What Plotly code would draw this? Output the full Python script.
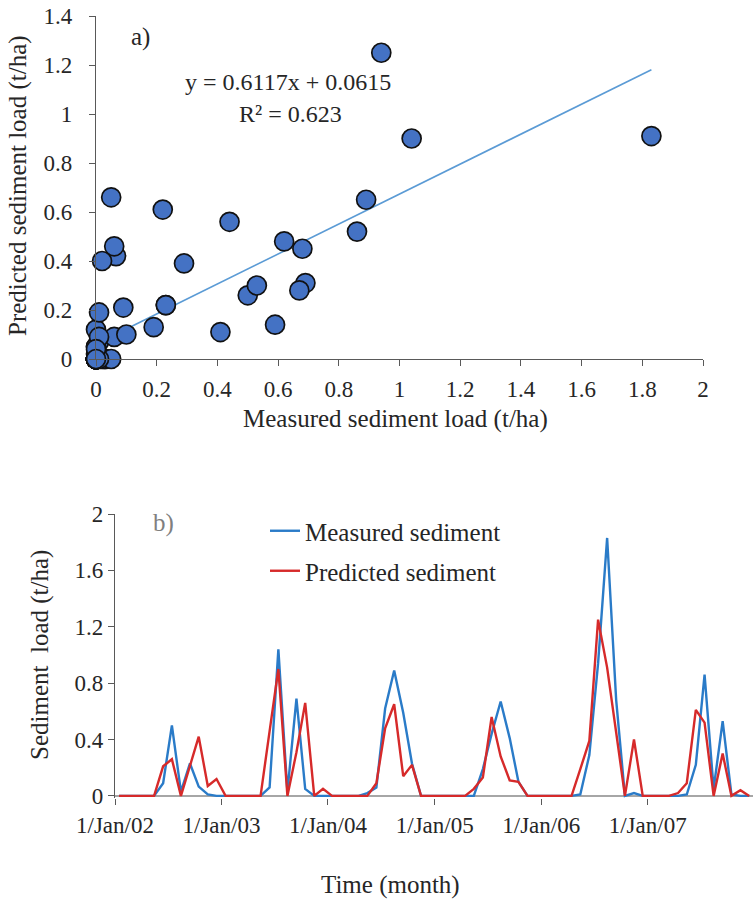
import pandas as pd
import plotly.graph_objects as go

# ---------------- data ----------------
months = pd.date_range("2002-01-01", periods=72, freq="MS") + pd.Timedelta(days=14)

measured = [0, 0, 0, 0, 0, 0.09, 0.50, 0.03, 0.23, 0.066, 0.01, 0,
            0, 0, 0, 0, 0, 0.06, 1.04, 0.03, 0.69, 0.05, 0, 0,
            0, 0, 0, 0, 0.02, 0.06, 0.62, 0.89, 0.59, 0.23, 0, 0,
            0, 0, 0, 0, 0, 0.19, 0.44, 0.67, 0.41, 0.10, 0, 0,
            0, 0, 0, 0, 0.01, 0.29, 0.94, 1.83, 0.68, 0, 0.02, 0,
            0, 0, 0, 0, 0.01, 0.22, 0.86, 0.05, 0.53, 0.01, 0, 0]

predicted = [0, 0, 0, 0, 0, 0.21, 0.26, 0, 0.22, 0.42, 0.07, 0.12,
             0, 0, 0, 0, 0, 0.46, 0.90, 0, 0.31, 0.66, 0, 0.05,
             0, 0, 0, 0, 0, 0.09, 0.48, 0.65, 0.14, 0.22, 0, 0,
             0, 0, 0, 0, 0.05, 0.13, 0.56, 0.28, 0.11, 0.10, 0, 0,
             0, 0, 0, 0, 0.19, 0.39, 1.25, 0.91, 0.45, 0, 0.40, 0,
             0, 0, 0, 0.02, 0.09, 0.61, 0.52, 0, 0.30, 0, 0.04, 0]

slope, intercept = 0.6117, 0.0615
trend_x = [0, max(measured)]
trend_y = [slope * v + intercept for v in trend_x]

year_ticks = pd.date_range("2002-01-01", periods=6, freq="YS")
year_labels = ["1/Jan/02", "1/Jan/03", "1/Jan/04", "1/Jan/05", "1/Jan/06", "1/Jan/07"]

# ---------------- figure ----------------
W, H = 753, 900
FONT = "Times New Roman, Liberation Serif, serif"
AXC = "#595959"
TXT = "#262626"

def px_x(p):
    return p / W

def px_y(p):
    return 1 - p / H

fig = go.Figure()

# a) scatter
fig.add_trace(go.Scatter(
    x=trend_x, y=trend_y, mode="lines",
    line=dict(color="#5B9BD5", width=1.6),
    xaxis="x", yaxis="y", showlegend=False, hoverinfo="skip"))
fig.add_trace(go.Scatter(
    x=measured, y=predicted, mode="markers",
    marker=dict(size=19, color="#4472C4", line=dict(color="#111111", width=1.7)),
    xaxis="x", yaxis="y", showlegend=False, cliponaxis=False))

# b) time series
fig.add_trace(go.Scatter(
    x=months, y=measured, mode="lines", name="Measured sediment",
    line=dict(color="#2A7BC8", width=2.4), xaxis="x2", yaxis="y2",
    legend="legend"))
fig.add_trace(go.Scatter(
    x=months, y=predicted, mode="lines", name="Predicted sediment",
    line=dict(color="#D62A2A", width=2.4), xaxis="x2", yaxis="y2",
    legend="legend2"))

tickfont = dict(family=FONT, size=23, color=TXT)


def note(text, x, y, size=25, color=TXT, angle=0):
    return dict(text=text, x=px_x(x), y=px_y(y), xref="paper", yref="paper",
                xanchor="center", yanchor="middle", showarrow=False,
                textangle=angle, font=dict(family=FONT, size=size, color=color))


fig.update_layout(
    width=W, height=H,
    margin=dict(l=0, r=0, t=0, b=0, autoexpand=False),
    paper_bgcolor="white", plot_bgcolor="white",
    font=dict(family=FONT, size=23, color=TXT),
    xaxis=dict(
        domain=[px_x(96), px_x(703)], anchor="y", automargin=False,
        range=[0, 2], tickvals=[0, 0.2, 0.4, 0.6, 0.8, 1, 1.2, 1.4, 1.6, 1.8, 2],
        showline=True, linecolor=AXC, linewidth=1.3,
        ticks="outside", ticklen=6, tickcolor=AXC, showgrid=False, zeroline=False,
        tickfont=tickfont, ticklabelstandoff=3),
    yaxis=dict(
        domain=[px_y(359), px_y(16)], anchor="x", automargin=False,
        range=[0, 1.4], tickvals=[0, 0.2, 0.4, 0.6, 0.8, 1, 1.2, 1.4],
        showline=True, linecolor=AXC, linewidth=1.3,
        ticks="outside", ticklen=6, tickcolor=AXC, showgrid=False, zeroline=False,
        tickfont=tickfont, ticklabelstandoff=12),
    xaxis2=dict(
        domain=[px_x(115), 1.0], anchor="y2", automargin=False,
        type="date", range=["2002-01-01", "2007-12-28"],
        tickvals=list(year_ticks), ticktext=year_labels,
        showline=False, ticks="outside", ticklen=6, tickcolor=AXC,
        showgrid=False, zeroline=False, tickfont=tickfont),
    yaxis2=dict(
        domain=[px_y(798), px_y(514)], anchor="x2", automargin=False,
        range=[-0.015, 2], tickvals=[0, 0.4, 0.8, 1.2, 1.6, 2],
        showline=True, linecolor=AXC, linewidth=1.3,
        ticks="outside", ticklen=6, tickcolor=AXC, showgrid=False,
        zeroline=True, zerolinecolor="#A6A6A6", zerolinewidth=1.5,
        layer="below traces", tickfont=tickfont),
    legend=dict(x=px_x(265), y=px_y(508), xanchor="left", yanchor="top",
                bgcolor="rgba(0,0,0,0)", font=dict(family=FONT, size=25, color=TXT),
                itemwidth=30),
    legend2=dict(x=px_x(265), y=px_y(548), xanchor="left", yanchor="top",
                 bgcolor="rgba(0,0,0,0)", font=dict(family=FONT, size=25, color=TXT),
                 itemwidth=30),
    annotations=[
        note("Measured sediment load (t/ha)", 395, 419),
        note("Predicted sediment load (t/ha)", 18, 186, angle=-90),
        note("Time (month)", 390, 885),
        note("Sediment  load (t/ha)", 40, 655, angle=-90),
        note("a)", 140, 37),
        note("y = 0.6117x + 0.0615", 288, 82, size=24),
        note("R² = 0.623", 290, 114, size=24),
        note("b)", 163, 523, color="#7F7F7F"),
    ],
)

fig.write_html("out.html", config={"displayModeBar": False},
               post_script="document.body.style.margin='0px';")
